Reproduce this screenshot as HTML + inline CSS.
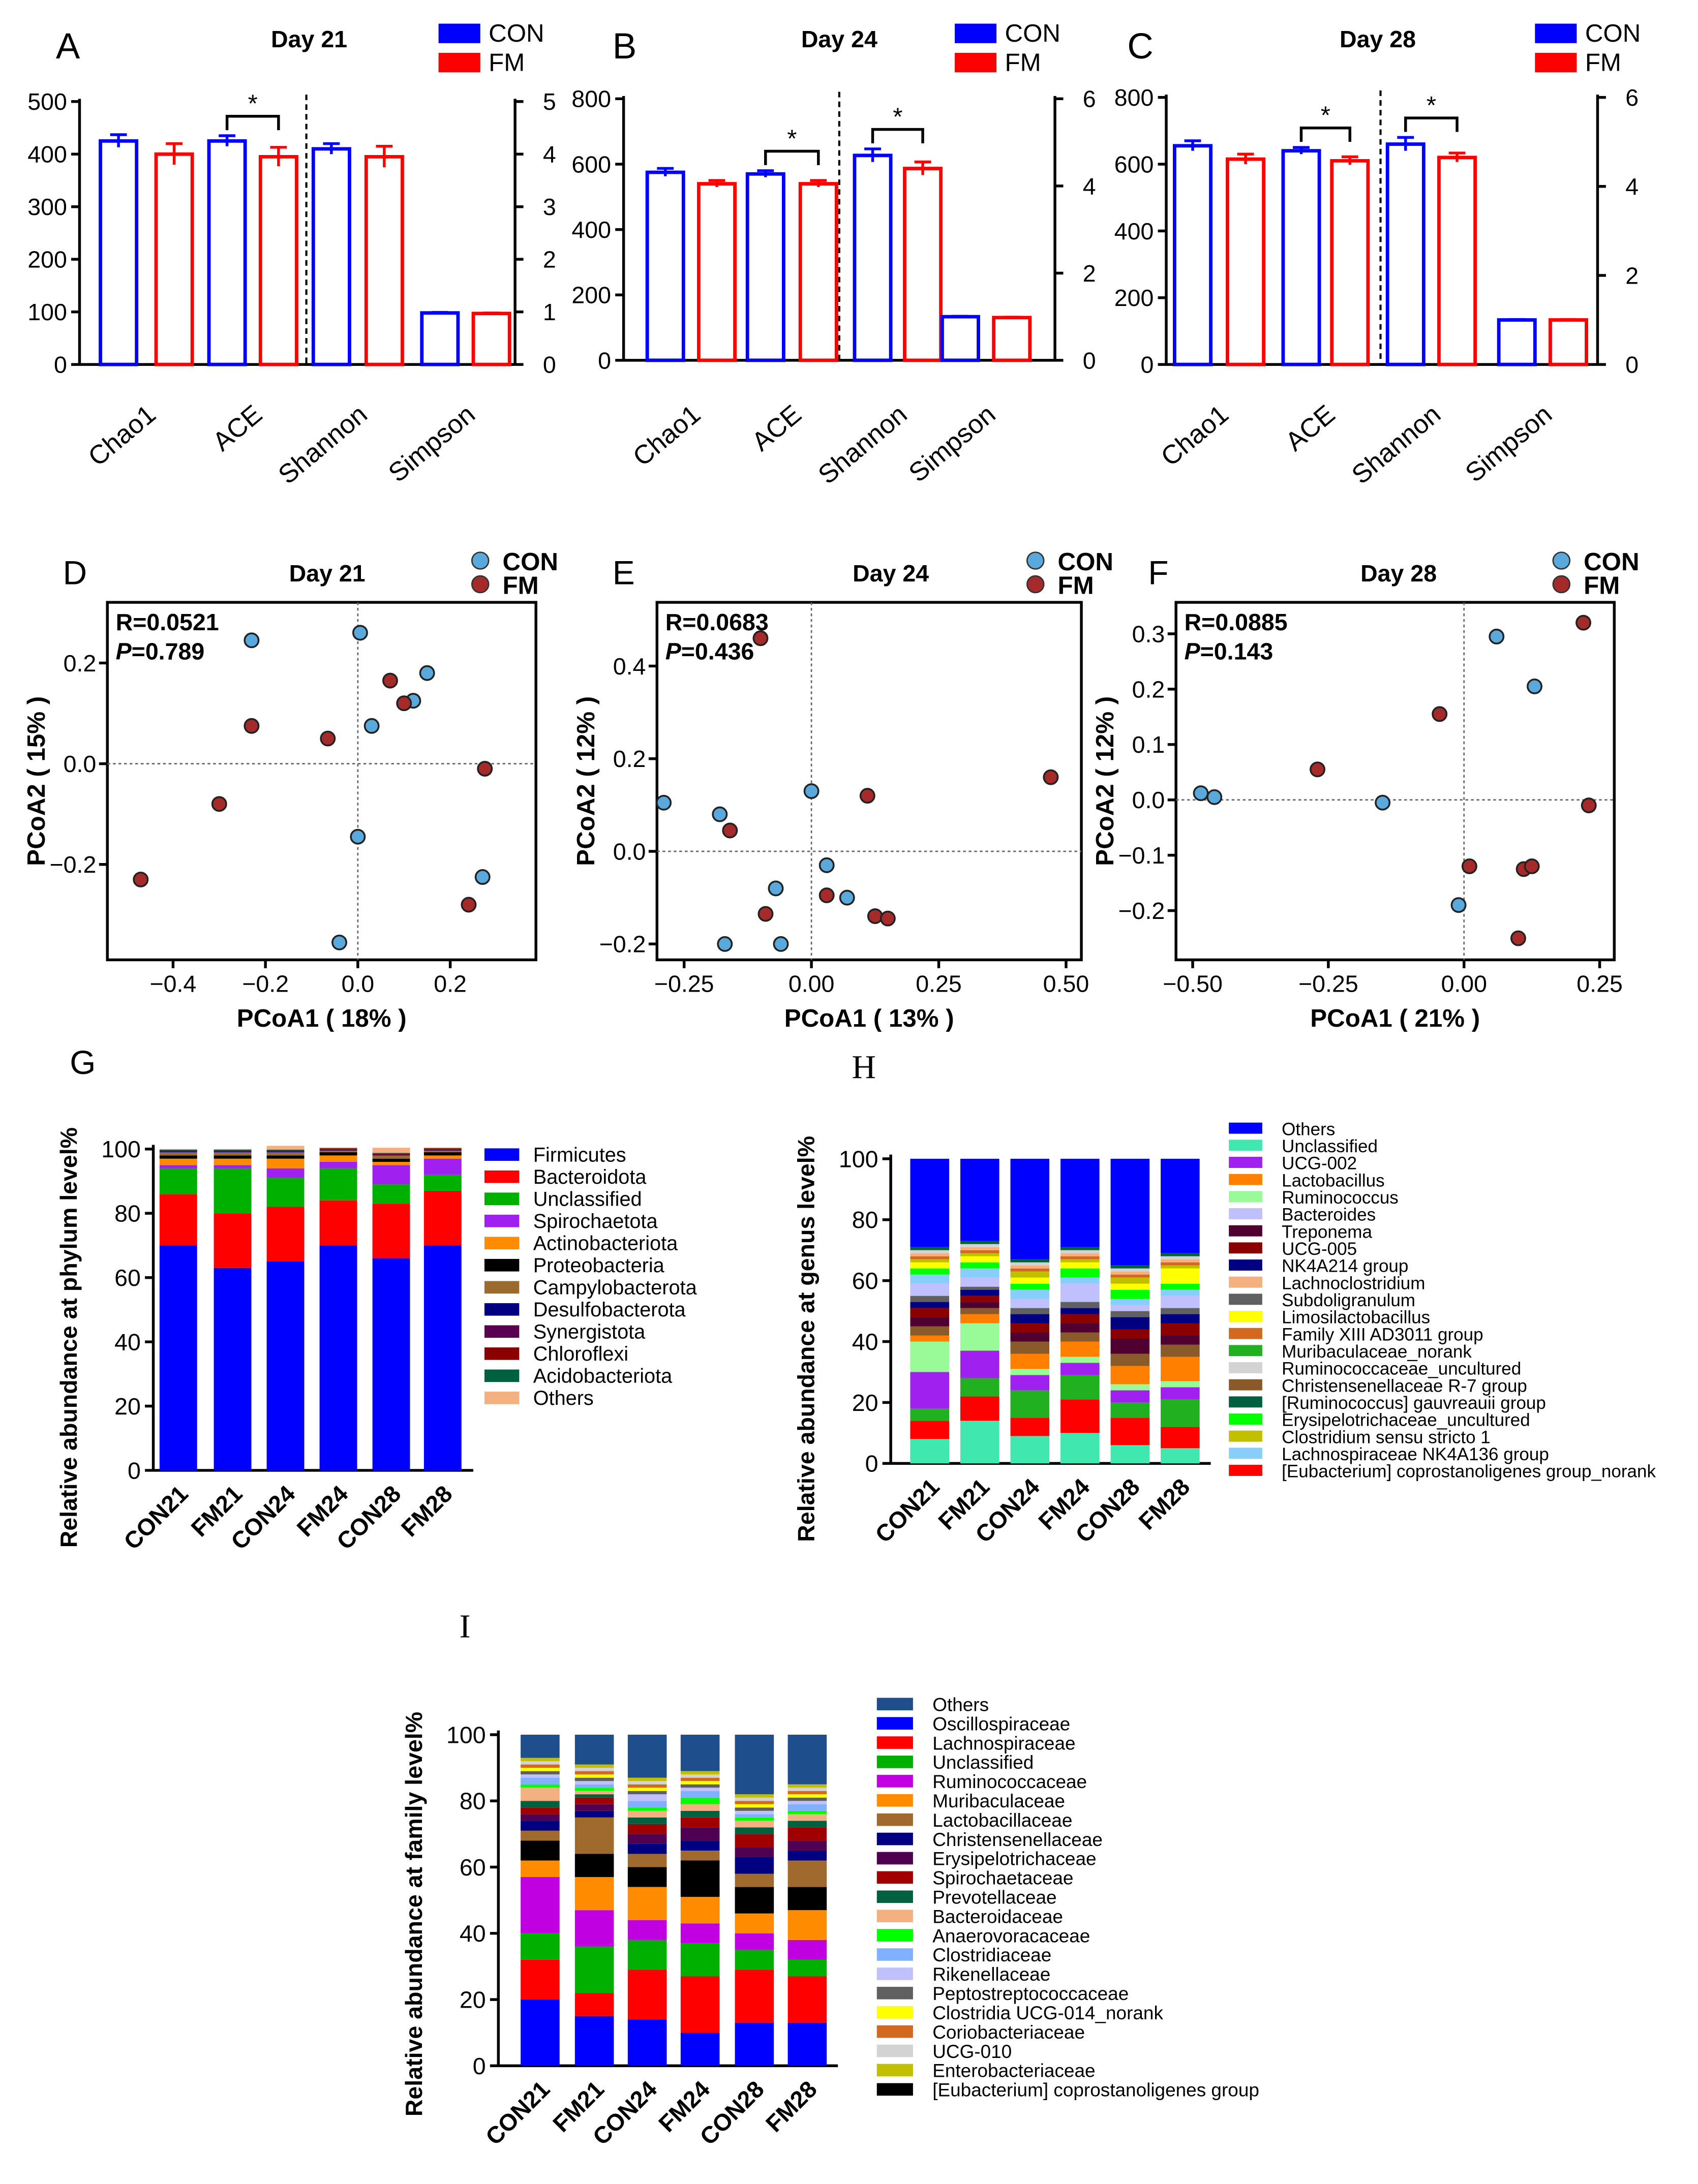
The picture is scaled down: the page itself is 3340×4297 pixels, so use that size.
<!DOCTYPE html>
<html><head><meta charset="utf-8">
<style>
html,body{margin:0;padding:0;background:#fff;}
svg{display:block;font-family:"Liberation Sans",Arial,sans-serif;}
</style></head>
<body>
<svg id="fig" width="3340" height="4297" viewBox="0 0 1220 1570" xmlns="http://www.w3.org/2000/svg"></svg>
<script>
// ---------- DATA ----------
const alphaCats = ["Chao1","ACE","Shannon","Simpson"];
const alphaCON21 = [425, 425, 4.1, 0.98];
const alphaFM21  = [400, 395, 3.95, 0.97];
const alphaCON24 = [575, 570, 4.7, 1.0];
const alphaFM24  = [540, 540, 4.4, 0.98];
const alphaCON28 = [655, 640, 4.95, 1.0];
const alphaFM28  = [615, 610, 4.65, 1.0];
const semCON21 = [12, 10, 0.1, 0.01];
const semFM21  = [20, 18, 0.2, 0.01];
const semCON24 = [12, 10, 0.15, 0.01];
const semFM24  = [10, 10, 0.15, 0.01];
const semCON28 = [15, 10, 0.15, 0.01];
const semFM28  = [15, 12, 0.1, 0.01];

const pcoaCON21 = [[-0.23,0.245],[0.005,0.26],[0.15,0.18],[0.12,0.125],[0.03,0.075],[0,-0.145],[0.27,-0.225],[-0.04,-0.355]];
const pcoaFM21  = [[0.07,0.165],[0.1,0.12],[-0.23,0.075],[-0.065,0.05],[0.275,-0.01],[-0.3,-0.08],[-0.47,-0.23],[0.24,-0.28]];
const pcoaCON24 = [[-0.29,0.105],[-0.18,0.08],[0,0.13],[0.03,-0.03],[0.07,-0.1],[-0.07,-0.08],[-0.06,-0.2],[-0.17,-0.2]];
const pcoaFM24  = [[-0.1,0.46],[0.11,0.12],[0.47,0.16],[-0.16,0.045],[0.03,-0.095],[-0.09,-0.135],[0.125,-0.14],[0.15,-0.145]];
const pcoaCON28 = [[-0.485,0.012],[-0.46,0.005],[-0.15,-0.005],[0.06,0.295],[0.13,0.205],[-0.01,-0.19]];
const pcoaFM28  = [[0.22,0.32],[-0.045,0.155],[-0.27,0.055],[0.23,-0.01],[0.01,-0.12],[0.11,-0.125],[0.125,-0.12],[0.1,-0.25]];

const groups = ["CON21","FM21","CON24","FM24","CON28","FM28"];

const phylumNames = ["Firmicutes","Bacteroidota","Unclassified","Spirochaetota","Actinobacteriota","Proteobacteria","Campylobacterota","Desulfobacterota","Synergistota","Chloroflexi","Acidobacteriota","Others"];
const phylumColors = ["#0000ff","#ff0000","#00b000","#a020f0","#ff8c00","#000000","#9b6a2f","#000080","#5a0050","#8b0000","#006040","#f4b080"];
const phylumVals = [
 [70,63,65,70,66,70],[16,17,17,14,17,17],[8,14,9,10,6,5],[1,1,3,2,6,5],[2,2,3,2,1,1],[1,1,1,1,1,1],
 [1,1,1,0.5,1,0.5],[0.2,0.2,0.2,0.2,0.2,0.2],[0.2,0.2,0.2,0.2,0.2,0.2],[0.2,0.2,0.2,0.2,0.2,0.2],[0.2,0.2,0.2,0.2,0.2,0.2],[0.2,0.2,1.2,0.2,1.6,0.2]];

const genusLegend = ["Others","Unclassified","UCG-002","Lactobacillus","Ruminococcus","Bacteroides","Treponema","UCG-005","NK4A214 group","Lachnoclostridium","Subdoligranulum","Limosilactobacillus","Family XIII AD3011 group","Muribaculaceae_norank","Ruminococcaceae_uncultured","Christensenellaceae R-7 group","[Ruminococcus] gauvreauii group","Erysipelotrichaceae_uncultured","Clostridium sensu stricto 1","Lachnospiraceae NK4A136 group","[Eubacterium] coprostanoligenes group_norank"];
const genusColors = ["#0000ff","#40e8b0","#a020f0","#ff8000","#98fb98","#c0c0ff","#500030","#8b0000","#000080","#f4b080","#606060","#ffff00","#d2691e","#20b020","#d3d3d3","#8b5a2b","#006040","#00ff00","#c0c000","#87cefa","#ff0000"];
const genusStackOrder = [1,20,13,2,4,3,15,6,7,8,10,5,19,17,11,18,12,9,14,16,0];
const genusVals = {
 1:[8,14,9,10,6,5], 20:[6,8,6,11,9,7], 13:[4,6,9,8,5,9], 2:[12,9,5,4,4,4], 4:[10,9,2,2,2,2], 3:[2,3,5,5,6,8],
 15:[3,2,4,3,4,4], 6:[3,2,3,3,5,3], 7:[3,2,3,3,3,4], 8:[2,2,3,2,4,3], 10:[2,1,2,2,2,2], 5:[4,3,3,6,2,4],
 19:[3,3,3,2,2,2], 17:[2,2,2,3,3,2], 11:[2,2,2,2,2,5], 18:[1,1,2,1,2,1], 12:[1,1,1,1,1,1], 9:[1,1,1,1,1,1],
 14:[1,1,1,1,1,1], 16:[1,1,1,1,1,1], 0:[29,27,33,29,35,31]};

const familyLegend = ["Others","Oscillospiraceae","Lachnospiraceae","Unclassified","Ruminococcaceae","Muribaculaceae","Lactobacillaceae","Christensenellaceae","Erysipelotrichaceae","Spirochaetaceae","Prevotellaceae","Bacteroidaceae","Anaerovoracaceae","Clostridiaceae","Rikenellaceae","Peptostreptococcaceae","Clostridia UCG-014_norank","Coriobacteriaceae","UCG-010","Enterobacteriaceae","[Eubacterium] coprostanoligenes group"];
const familyColors = ["#1f4e8c","#0000ff","#ff0000","#00b000","#c000e0","#ff8c00","#a0692e","#000080","#500050","#a00000","#006040","#f4b080","#00ff00","#80b0ff","#c0c0ff","#606060","#ffff00","#d2691e","#d3d3d3","#c0c000","#000000"];
const familyStackOrder = [1,2,3,4,5,20,6,7,8,9,10,11,12,13,14,15,16,17,18,19,0];
const familyVals = {
 1:[20,15,14,10,13,13], 2:[12,7,15,17,16,14], 3:[8,14,9,10,6,5], 4:[17,11,6,6,5,6], 5:[5,10,10,8,6,9],
 20:[6,7,6,11,8,7], 6:[3,11,4,3,4,8], 7:[3,2,3,3,5,3], 8:[2,2,3,4,3,3], 9:[2,2,3,3,4,4], 10:[2,1,2,2,2,2],
 11:[4,1,2,2,2,2], 12:[1,1,1,2,1,1], 13:[2,1,2,2,1,2], 14:[1,1,2,1,1,1], 15:[1,1,1,1,1,1], 16:[1,1,1,1,1,1],
 17:[1,1,1,1,1,1], 18:[1,1,1,1,1,1], 19:[1,1,1,1,1,1], 0:[7,9,13,11,18,15]};

// ---------- HELPERS ----------
const NS = "http://www.w3.org/2000/svg";
const svg = document.getElementById("fig");
function mk(tag, attrs, parent){
  const e = document.createElementNS(NS, tag);
  for (const k in attrs) e.setAttribute(k, attrs[k]);
  (parent || svg).appendChild(e);
  return e;
}
function txt(s, x, y, size, opts, parent){
  const o = Object.assign({x:x, y:y, "font-size":size, fill:"#000"}, opts||{});
  const t = mk("text", o, parent);
  t.textContent = s;
  return t;
}

// ---------- ALPHA DIVERSITY PANELS ----------
const alphaPanels = [
 {letter:"A", lx:40, x0:57, x1:370, yb:262, yt:73, lmax:500, lstep:100, rmax:5, rstep:1, bx:[85,125,163,200,238,276,316,353], dash:220, title:"Day 21", tx:222, legx:315, con:alphaCON21, fm:alphaFM21, sc:semCON21, sf:semFM21, stars:[1]},
 {letter:"B", lx:440, x0:448, x1:758, yb:259, yt:71, lmax:800, lstep:200, rmax:6, rstep:2, bx:[478,515,550,588,627,663,690,727], dash:603, title:"Day 24", tx:603, legx:686, con:alphaCON24, fm:alphaFM24, sc:semCON24, sf:semFM24, stars:[1,2]},
 {letter:"C", lx:810, x0:838, x1:1148, yb:262, yt:70, lmax:800, lstep:200, rmax:6, rstep:2, bx:[857,895,935,970,1010,1047,1090,1127], dash:992, title:"Day 28", tx:990, legx:1103, con:alphaCON28, fm:alphaFM28, sc:semCON28, sf:semFM28, stars:[1,2]}
];
alphaPanels.forEach((p, pi) => {
  const g = mk("g", {});
  
  
  const L = txt(p.letter, p.lx, 42, 26, {}, g);
  
  
  const T = txt(p.title, p.tx, 34, 17, {"font-weight":"bold","text-anchor":"middle"}, g);
  
  
  [["CON","#0000ff",25],["FM","#ff0000",46]].forEach(l => {
    const r = mk("rect", {x:p.legx, y:l[2]-8, width:30, height:14, fill:l[1]}, g);
    
    
    const t = txt(l[0], p.legx+36, l[2]+5, 18, {}, g);
    
    
  });
  const yL = v => p.yb - v / p.lmax * (p.yb - p.yt);
  const yR = v => p.yb - v / p.rmax * (p.yb - p.yt);
  const ax = mk("line", {x1:p.x0, y1:p.yt-2, x2:p.x0, y2:p.yb, stroke:"#000","stroke-width":2}, g);
  
  
  const ax2 = mk("line", {x1:p.x1, y1:p.yt-2, x2:p.x1, y2:p.yb, stroke:"#000","stroke-width":2}, g);
  
  
  const axb = mk("line", {x1:p.x0, y1:p.yb, x2:p.x1, y2:p.yb, stroke:"#000","stroke-width":2}, g);
  
  
  for (let v = 0; v <= p.lmax; v += p.lstep) {
    mk("line", {x1:p.x0-6, y1:yL(v), x2:p.x0, y2:yL(v), stroke:"#000","stroke-width":2}, g);
    const t = txt(String(v), p.x0-9, yL(v)+6, 17, {"text-anchor":"end"}, g);
    
    
  }
  for (let v = 0; v <= p.rmax; v += p.rstep) {
    mk("line", {x1:p.x1, y1:yR(v), x2:p.x1+6, y2:yR(v), stroke:"#000","stroke-width":2}, g);
    const t = txt(String(v), p.x1+20, yR(v)+6, 17, {}, g);
    
    
  }
  const d = mk("line", {x1:p.dash, y1:p.yt-5, x2:p.dash, y2:p.yb, stroke:"#000","stroke-width":1.5,"stroke-dasharray":"4,3"}, g);
  
  
  alphaCats.forEach((c, i) => {
    const sc = i < 2 ? yL : yR;
    [[p.con[i], p.sc[i], "#0000ff", p.bx[2*i], "con"], [p.fm[i], p.sf[i], "#ff0000", p.bx[2*i+1], "fm"]].forEach(b => {
      const y = sc(b[0]);
      const r = mk("rect", {x:b[3]-13, y:y, width:26, height:p.yb-y, fill:"#fff", stroke:b[2], "stroke-width":2.5}, g);
      
      
      const e1 = sc(b[0]+b[1]), e2 = sc(b[0]-b[1]);
      const eb = mk("path", {d:`M${b[3]},${e1}V${e2}M${b[3]-6},${e1}H${b[3]+6}`, stroke:b[2], "stroke-width":2, fill:"none"}, g);
      
      
    });
    const cx = (p.bx[2*i] + p.bx[2*i+1]) / 2;
    const lt = txt(c, cx+8, 300, 19, {"text-anchor":"end", transform:`rotate(-40 ${cx+8} 300)`}, g);
    
    
  });
  p.stars.forEach(i => {
    const sc = i < 2 ? yL : yR;
    const top = Math.min(sc(p.con[i]+p.sc[i]), sc(p.fm[i]+p.sf[i])) - 14;
    const br = mk("path", {d:`M${p.bx[2*i]},${top+10}V${top}H${p.bx[2*i+1]}V${top+10}`, stroke:"#000", "stroke-width":2, fill:"none"}, g);
    
    
    const st = txt("*", (p.bx[2*i]+p.bx[2*i+1])/2, top-3, 18, {"text-anchor":"middle"}, g);
    
    
  });
});

// ---------- PCoA PANELS ----------
const pcoaPanels = [
 {letter:"D", lx:45, box:[77,433,385,690], x0:257, xs:332, y0:549, ys:362, xt:[-0.4,-0.2,0,0.2], xl:["−0.4","−0.2","0.0","0.2"], yt:[0.2,0,-0.2], yl:["0.2","0.0","−0.2"], title:"Day 21", tx:235, legx:345, R:"R=0.0521", P:"=0.789", xlab:"PCoA1 ( 18% )", ylab:"PCoA2 ( 15% )", con:pcoaCON21, fm:pcoaFM21},
 {letter:"E", lx:440, box:[472,433,777,690], x0:583, xs:366, y0:612, ys:333, xt:[-0.25,0,0.25,0.5], xl:["−0.25","0.00","0.25","0.50"], yt:[0.4,0.2,0,-0.2], yl:["0.4","0.2","0.0","−0.2"], title:"Day 24", tx:640, legx:744, R:"R=0.0683", P:"=0.436", xlab:"PCoA1 ( 13% )", ylab:"PCoA2 ( 12% )", con:pcoaCON24, fm:pcoaFM24},
 {letter:"F", lx:825, box:[845,433,1160,690], x0:1052, xs:390, y0:575, ys:398, xt:[-0.5,-0.25,0,0.25], xl:["−0.50","−0.25","0.00","0.25"], yt:[0.3,0.2,0.1,0,-0.1,-0.2], yl:["0.3","0.2","0.1","0.0","−0.1","−0.2"], title:"Day 28", tx:1005, legx:1122, R:"R=0.0885", P:"=0.143", xlab:"PCoA1 ( 21% )", ylab:"PCoA2 ( 12% )", con:pcoaCON28, fm:pcoaFM28}
];
pcoaPanels.forEach(p => {
  const g = mk("g", {});
  
  
  const [bx0, by0, bx1, by1] = p.box;
  const X = v => p.x0 + v * p.xs, Y = v => p.y0 - v * p.ys;
  const L = txt(p.letter, p.lx, 420, 24, {}, g);
  
  
  const T = txt(p.title, p.tx, 418, 17, {"font-weight":"bold","text-anchor":"middle"}, g);
  
  
  [["CON","#5aa9dc",403],["FM","#a52a2a",420]].forEach(l => {
    const c = mk("circle", {cx:p.legx, cy:l[2], r:6, fill:l[1], stroke:"#333","stroke-width":1}, g);
    
    
    const t = txt(l[0], p.legx+16, l[2]+7, 18, {"font-weight":"bold"}, g);
    
    
  });
  const bx = mk("rect", {x:bx0, y:by0, width:bx1-bx0, height:by1-by0, fill:"none", stroke:"#000","stroke-width":2}, g);
  
  
  const zl = mk("path", {d:`M${X(0)},${by0}V${by1}M${bx0},${Y(0)}H${bx1}`, stroke:"#666","stroke-width":1,"stroke-dasharray":"2,2", fill:"none"}, g);
  
  
  p.xt.forEach((v, i) => {
    mk("line", {x1:X(v), y1:by1, x2:X(v), y2:by1+6, stroke:"#000","stroke-width":2}, g);
    const t = txt(p.xl[i], X(v), by1+23, 17, {"text-anchor":"middle"}, g);
    
    
  });
  p.yt.forEach((v, i) => {
    mk("line", {x1:bx0-6, y1:Y(v), x2:bx0, y2:Y(v), stroke:"#000","stroke-width":2}, g);
    const t = txt(p.yl[i], bx0-8, Y(v)+6, 17, {"text-anchor":"end"}, g);
    
    
  });
  const xl = txt(p.xlab, (bx0+bx1)/2, by1+48, 18, {"font-weight":"bold","text-anchor":"middle"}, g);
  
  
  const yx = bx0 - 45, yy = (by0+by1)/2;
  const yl = txt(p.ylab, yx, yy, 18, {"font-weight":"bold","text-anchor":"middle", transform:`rotate(-90 ${yx} ${yy})`}, g);
  
  
  const rt = txt(p.R, bx0+6, by0+20, 17, {"font-weight":"bold"}, g);
  
  
  const pt = mk("text", {x:bx0+6, y:by0+41, "font-size":17, "font-weight":"bold"}, g);
  pt.innerHTML = '<tspan font-style="italic">P</tspan>' + p.P;
  
  
  p.con.forEach(pt2 => {
    const c = mk("circle", {cx:X(pt2[0]), cy:Y(pt2[1]), r:5, fill:"#5aa9dc", stroke:"#222","stroke-width":1.3}, g);
    
    
  });
  p.fm.forEach(pt2 => {
    const c = mk("circle", {cx:X(pt2[0]), cy:Y(pt2[1]), r:5, fill:"#a52a2a", stroke:"#222","stroke-width":1.3}, g);
    
    
  });
});

// ---------- STACKED BAR PANELS ----------
function stacked(cfg){
  const g = mk("g", {});
  
  
  const Y = v => cfg.y0 - v / 100 * (cfg.y0 - cfg.y100);
  const L = txt(cfg.letter, cfg.lx, cfg.ly, 24, {"font-family": cfg.serif ? "Liberation Serif, serif" : "Liberation Sans, sans-serif"}, g);
  
  
  const ax = mk("line", {x1:cfg.ax, y1:cfg.y100-3, x2:cfg.ax, y2:cfg.y0, stroke:"#000","stroke-width":2}, g);
  
  
  const axb = mk("line", {x1:cfg.ax, y1:cfg.y0, x2:cfg.bx[5]+22, y2:cfg.y0, stroke:"#000","stroke-width":2}, g);
  
  
  for (let v = 0; v <= 100; v += 20) {
    mk("line", {x1:cfg.ax-6, y1:Y(v), x2:cfg.ax, y2:Y(v), stroke:"#000","stroke-width":2}, g);
    const t = txt(String(v), cfg.ax-9, Y(v)+6, 17, {"text-anchor":"end"}, g);
    
    
  }
  const yx = cfg.ax - 55, yy = (cfg.y0 + cfg.y100)/2 + cfg.ylabOff;
  const yl = txt(cfg.ylab, yx, yy, 17, {"font-weight":"bold","text-anchor":"middle", transform:`rotate(-90 ${yx} ${yy})`}, g);
  
  
  groups.forEach((gn, j) => {
    let acc = 0;
    cfg.order.forEach(k => {
      const v = cfg.vals[k][j];
      const r = mk("rect", {x:cfg.bx[j]-cfg.bw/2, y:Y(acc+v), width:cfg.bw, height:Y(acc)-Y(acc+v), fill:cfg.colors[k]}, g);
      
      
      acc += v;
    });
    const tx = cfg.bx[j] + 8, ty = cfg.y0 + 18;
    const t = txt(gn, tx, ty, 17, {"font-weight":"bold","text-anchor":"end", transform:`rotate(-45 ${tx} ${ty})`}, g);
    
    
  });
  cfg.names.forEach((n, i) => {
    const y = cfg.legy + i * cfg.legStep;
    const r = mk("rect", {x:cfg.legx, y:y-cfg.swH/2, width:cfg.swW, height:cfg.swH, fill:cfg.colors[i]}, g);
    
    
    const t = txt(n, cfg.legx+cfg.swW+cfg.gap, y+5, cfg.legFont, {}, g);
    
    
  });
}
const phylumOrder = phylumNames.map((n,i)=>i);
const phylumValsObj = {};
phylumVals.forEach((a,i)=>{ phylumValsObj[i] = a; });
stacked({name:"phylum-stacked-bar-panel-g", letter:"G", lx:50, ly:772, serif:false, ax:110, y0:1057, y100:826, bx:[128,167,205,243,281,318], bw:27,
  ylab:"Relative abundance at phylum level%", ylabOff:20, order:phylumOrder, vals:phylumValsObj, colors:phylumColors, names:phylumNames,
  legx:348, legy:830, legStep:15.9, swW:25, swH:9, gap:10, legFont:14.5});
stacked({name:"genus-stacked-bar-panel-h", letter:"H", lx:612, ly:775, serif:true, ax:640, y0:1052, y100:833, bx:[668,704,740,776,812,848], bw:28,
  ylab:"Relative abundance at genus level%", ylabOff:20, order:genusStackOrder, vals:genusVals, colors:genusColors, names:genusLegend,
  legx:883, legy:811, legStep:12.3, swW:24, swH:8, gap:14, legFont:12.8});
stacked({name:"family-stacked-bar-panel-i", letter:"I", lx:330, ly:1177, serif:true, ax:358, y0:1485, y100:1247, bx:[388,427,465,503,542,580], bw:28,
  ylab:"Relative abundance at family level%", ylabOff:10, order:familyStackOrder, vals:familyVals, colors:familyColors, names:familyLegend,
  legx:630, legy:1225, legStep:13.85, swW:26, swH:9, gap:14, legFont:13.5});
</script>
</body></html>
